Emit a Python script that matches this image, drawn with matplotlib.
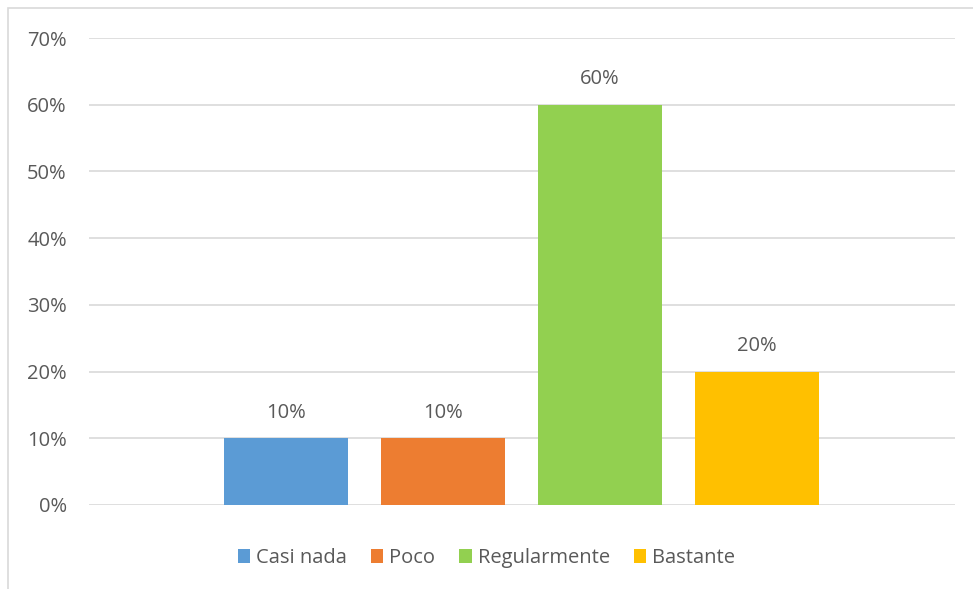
import matplotlib
matplotlib.use("Agg")
import matplotlib.pyplot as plt
from matplotlib.patches import Rectangle, Patch
from matplotlib.ticker import FuncFormatter, MultipleLocator

categories = ["Casi nada", "Poco", "Regularmente", "Bastante"]
values = [0.10, 0.10, 0.60, 0.20]
colors = ["#5B9BD5", "#ED7D31", "#92D050", "#FFC000"]

W, H = 973, 589
fig = plt.figure(figsize=(W / 100, H / 100), dpi=100)
plt.rcParams['font.family'] = ['Open Sans', 'DejaVu Sans']
txt = "#595959"
grid = "#D9D9D9"
fs = 14.5

# chart border
fig.patches.append(Rectangle((7.5 / W, -0.1), 1.2, (H - 8) / H + 0.1, transform=fig.transFigure,
                             fill=False, edgecolor=grid, linewidth=1.2))

ax = fig.add_axes([89 / W, 1 - 505 / H, (955 - 89) / W, (505 - 38) / H])
x = list(range(len(categories)))
bars = ax.bar(x, values, width=124 / 157, color=colors, zorder=3)
ax.set_xlim((89 - 286) / 157, (955 - 286) / 157)
ax.set_ylim(0, 0.7)
ax.yaxis.set_major_locator(MultipleLocator(0.1))
ax.yaxis.set_major_formatter(FuncFormatter(lambda v, p: f"{v*100:.0f}%"))
ax.grid(axis='y', color=grid, linewidth=1.2, zorder=0)
for s in ax.spines.values():
    s.set_visible(False)
ax.set_xticks([])
ax.tick_params(axis='y', length=0, pad=16, labelsize=fs, labelcolor=txt)

for b, v in zip(bars, values):
    ax.annotate(f"{v*100:.0f}%", (b.get_x() + b.get_width() / 2, v), xytext=(0, 11),
                textcoords='offset points', ha='center', va='bottom', fontsize=fs, color=txt)

handles = [Patch(facecolor=c, edgecolor='none') for c in colors]
fig.legend(handles, categories, loc='center', bbox_to_anchor=(0.5, 1 - 558 / H), ncol=4,
           frameon=False, fontsize=fs, labelcolor=txt, handlelength=0.6, handleheight=0.75,
           handletextpad=0.3, columnspacing=1.2)

fig.savefig("out.png", dpi=100, facecolor="white")
